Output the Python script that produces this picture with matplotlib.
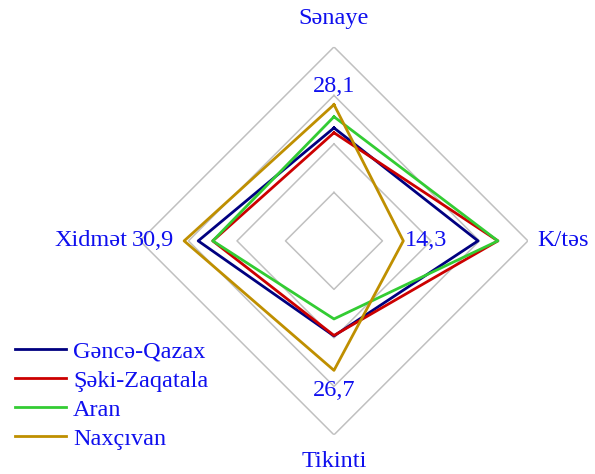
import numpy as np
import matplotlib.pyplot as plt

# axes: top, right, bottom, left (clockwise from top)
sectors = ["Sənaye", "K/təs", "Tikinti", "Xidmət"]
ganca_qazax = [23.3, 29.7, 19.6, 28.0]
saki_zaqatala = [22.3, 33.8, 19.5, 25.0]
aran = [25.6, 33.8, 16.1, 25.0]
naxcivan = [28.1, 14.3, 26.7, 30.9]
nax_labels = ["28,1", "14,3", "26,7", "30,9"]
rings = [10, 20, 30, 40]

series = [
    ("Gəncə-Qazax", ganca_qazax, "#000080"),
    ("Şəki-Zaqatala", saki_zaqatala, "#cc0000"),
    ("Aran", aran, "#33cc33"),
    ("Naxçıvan", naxcivan, "#bf8f00"),
]

plt.rcParams['font.family'] = ['Liberation Serif', 'DejaVu Serif']
txt = "#0f0fee"
fs = 17.5

fig = plt.figure(figsize=(5.95, 4.74), dpi=100)
ax = fig.add_axes([0.2353, 0.0823, 0.652, 0.819], projection='polar')
ax.set_theta_offset(np.pi / 2)
ax.set_theta_direction(-1)
ax.set_ylim(0, 40)
ax.grid(False)
ax.spines['polar'].set_visible(False)
ax.set_xticks([])
ax.set_yticks([])
ax.patch.set_alpha(0)

theta = np.linspace(0, 2 * np.pi, len(sectors), endpoint=False)
th_closed = np.append(theta, theta[0])

for r in rings:
    ax.plot(th_closed, [r] * (len(theta) + 1), color="#c0c0c0", lw=1.1, zorder=1)

for name, vals, col in series:
    ax.plot(th_closed, vals + vals[:1], color=col, lw=2.0, label=name, zorder=3)

# sector labels
ax.text(theta[0], 45.9, sectors[0], ha='center', va='center', color=txt, fontsize=fs)
ax.text(theta[1], 42.0, sectors[1], ha='left', va='center', color=txt, fontsize=fs)
ax.text(theta[2], 45.5, sectors[2], ha='center', va='center', color=txt, fontsize=fs)
ax.text(theta[3], 42.5, sectors[3], ha='right', va='center', color=txt, fontsize=fs)

# Naxçıvan value labels
ax.text(theta[0], naxcivan[0] + 3.7, nax_labels[0], ha='center', va='center', color=txt, fontsize=fs)
ax.text(theta[1], naxcivan[1] + 0.4, nax_labels[1], ha='left', va='center', color=txt, fontsize=fs)
ax.text(theta[2], naxcivan[2] + 4.1, nax_labels[2], ha='center', va='center', color=txt, fontsize=fs)
ax.text(theta[3], naxcivan[3] + 2.1, nax_labels[3], ha='right', va='center', color=txt, fontsize=fs)

leg = fig.legend(loc='lower left', bbox_to_anchor=(0.0, 0.02), frameon=False,
                 fontsize=fs, handlelength=2.1, handletextpad=0.3, labelspacing=0.29,
                 borderaxespad=0.2)
for t in leg.get_texts():
    t.set_color(txt)

fig.savefig("out.png", dpi=100)
